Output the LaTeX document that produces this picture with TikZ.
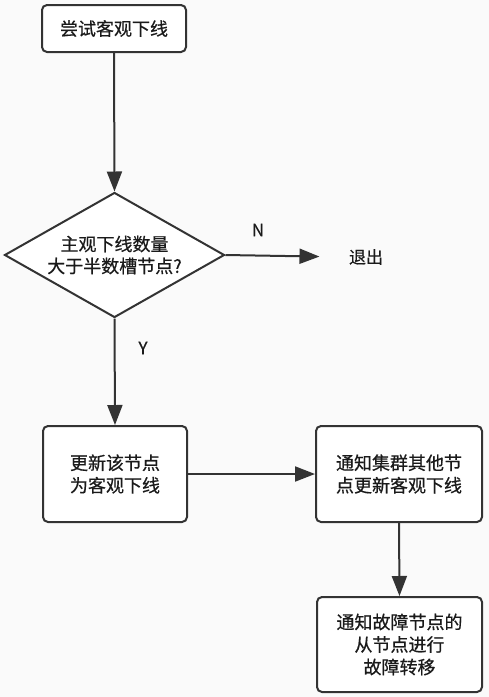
\documentclass[tikz,border=0pt]{standalone}
\usepackage{fontspec}
\setmainfont{Noto Sans CJK SC}[FakeBold=0.6]
\usetikzlibrary{shapes.geometric,arrows.meta}
\usepackage{xcolor}
\definecolor{fcInk}{HTML}{1A1A1A}
\definecolor{fcLine}{HTML}{333333}
\definecolor{fcPaper}{HTML}{FAFAFA}
\tikzset{
  stp/.style={draw=fcLine, line width=2pt, fill=white, rounded corners=5pt, inner sep=0pt, align=center, text=fcInk, font=\fontsize{18}{22.5}\selectfont},
  dec/.style={diamond, draw=fcLine, line width=2pt, fill=white, aspect=1.76, minimum width=220pt, minimum height=125pt, inner sep=0pt, align=center, text=fcInk, font=\fontsize{18}{22}\selectfont},
  lbl/.style={text=fcInk, font=\fontsize{17}{20}\selectfont},
  arr/.style={-{Triangle[length=20pt,width=15pt]}, line width=2pt, draw=fcLine},
}
\begin{document}
\begin{tikzpicture}[x=1pt, y=-1pt]
            \fill[fcPaper] (0,0) rectangle (489,697);
            \useasboundingbox (0,0) rectangle (489,697);
            % steps
            \node[stp, minimum width=144pt, minimum height=47pt] (tryOdown) at (114,28.5) {尝试客观下线};
            \node[dec] (quorum) at (114.5,255) {主观下线数量\\大于半数槽节点?};
            \node[lbl] (exitN) at (366,257) {退出};
            \node[stp, minimum width=144pt, minimum height=96pt] (markOdown) at (115,474) {更新该节点\\为客观下线};
            \node[stp, minimum width=166pt, minimum height=96pt] (notifyAll) at (399,474) {通知集群其他节\\点更新客观下线};
            \node[stp, minimum width=165pt, minimum height=95pt] (failover) at (399.5,644.5) {通知故障节点的\\从节点进行\\故障转移};
            % branch labels
            \node[lbl] (labN) at (258,230) {N};
            \node[lbl] (labY) at (143,348) {Y};
            % connectors
            \draw[arr] (tryOdown.south) -- (quorum.north);
            \draw[arr, shorten >=26pt] (quorum.east) -- (exitN.west);
            \draw[arr] (quorum.south) -- (markOdown.north);
            \draw[arr] (markOdown.east) -- (notifyAll.west);
            \draw[arr] (notifyAll.south) -- (failover.north);
        \end{tikzpicture}
\end{document}
